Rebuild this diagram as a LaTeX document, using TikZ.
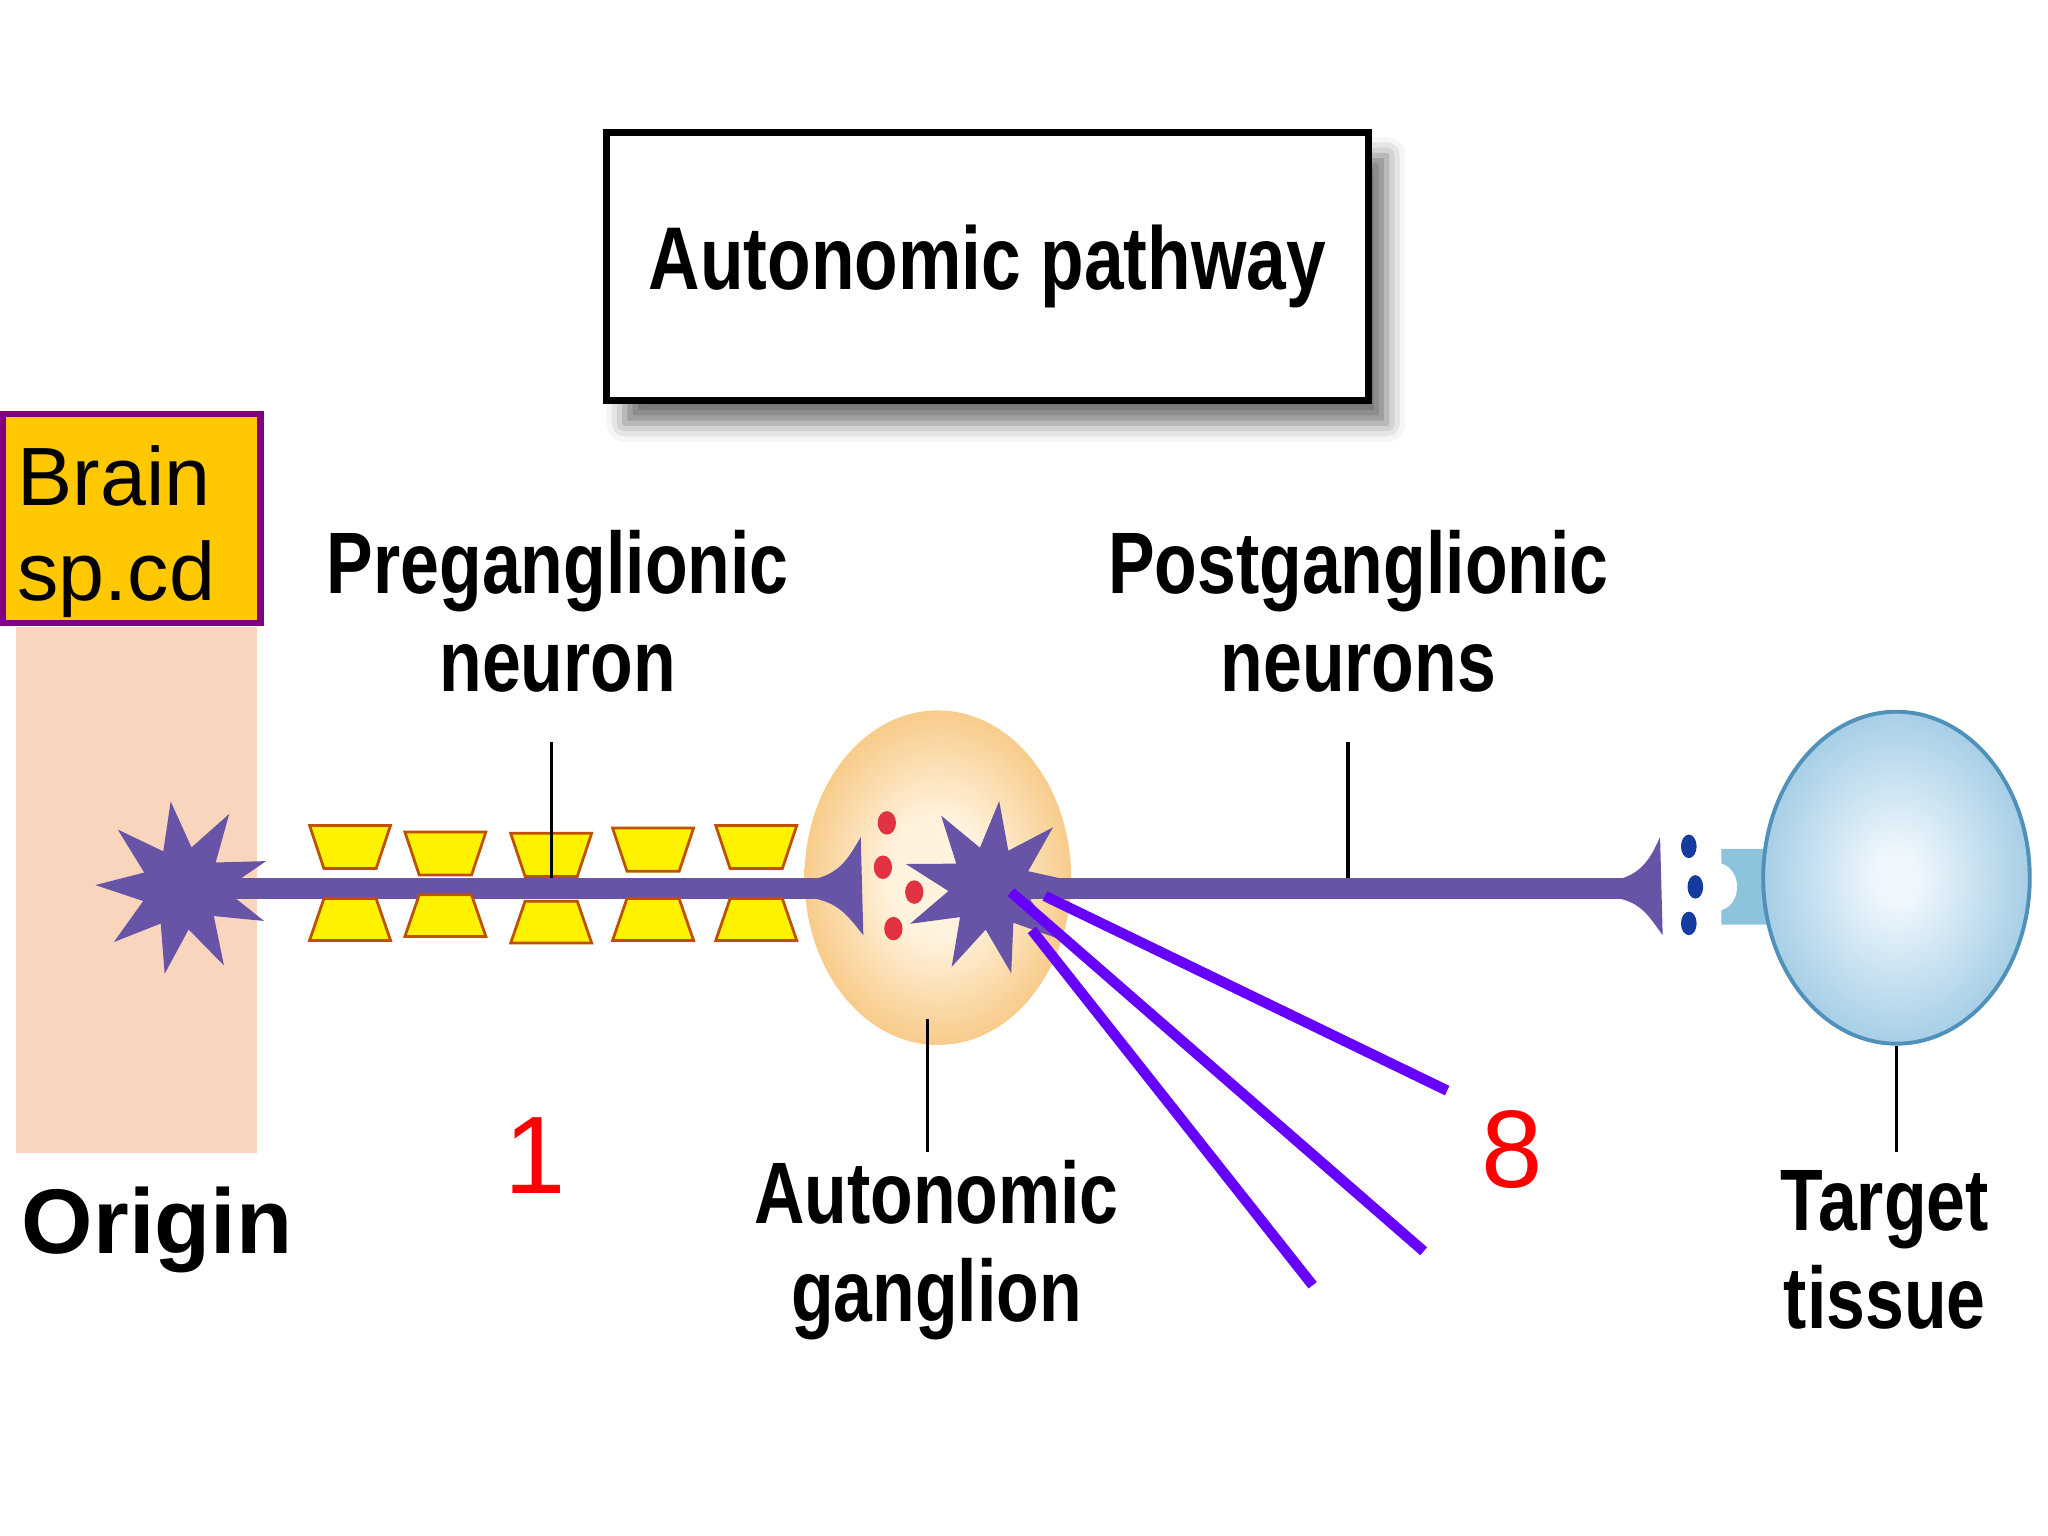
\documentclass[tikz,border=0pt]{standalone}
\usepackage{fontspec}
\setmainfont{Liberation Sans}
\newfontfamily\condfont{Liberation Sans}[FakeStretch=0.8]
\usetikzlibrary{shapes.geometric,shadows.blur}

\definecolor{axon}{RGB}{104,84,166}
\definecolor{spine}{RGB}{250,213,190}
\definecolor{brainfill}{RGB}{255,200,0}
\definecolor{brainedge}{RGB}{128,0,128}
\definecolor{gangIn}{RGB}{255,243,222}
\definecolor{gangOut}{RGB}{245,186,102}
\definecolor{tgtIn}{RGB}{238,247,252}
\definecolor{tgtOut}{RGB}{150,197,225}
\definecolor{tgtEdge}{RGB}{80,145,185}
\definecolor{recep}{RGB}{142,195,222}
\definecolor{vesRed}{RGB}{225,50,65}
\definecolor{vesBlue}{RGB}{20,60,160}
\definecolor{gateEdge}{RGB}{190,80,0}
\definecolor{fan}{RGB}{102,0,255}

\pgfdeclareradialshading{gangshade}{\pgfpoint{0bp}{0bp}}{color(0bp)=(gangIn); color(9bp)=(gangIn); color(32bp)=(gangOut); color(50bp)=(gangOut)}
\pgfdeclareradialshading{tgtshade}{\pgfpoint{0bp}{0bp}}{color(0bp)=(tgtIn); color(4bp)=(tgtIn); color(30bp)=(tgtOut); color(50bp)=(tgtOut)}

\tikzset{
    lbl/.style={align=center, font=\condfont\bfseries\fontsize{19}{21.3}\selectfont},
    num/.style={text=red, font=\fontsize{24}{28}\selectfont},
    soma/.style={star, star points=9, star point ratio=2.1, minimum size=1.34cm, inner sep=0pt, fill=axon},
    axonline/.style={axon, line width=0.16cm},
    gate/.style={fill=yellow, draw=gateEdge, line width=0.6pt},
    leader/.style={line width=0.7pt},
    fanline/.style={fan, line width=0.08cm}
}

\begin{document}
\begin{tikzpicture}[x=0.01cm,y=-0.01cm]
    \useasboundingbox (0,0) rectangle (1568,1176);
    % spinal cord / brain strip
    \fill[spine] (12,480) rectangle (197,883);
    \node[draw=brainedge, line width=1.42pt, fill=brainfill, minimum width=1.97cm, minimum height=1.60cm]
        (brain) at (101,397) {};
    \node[text width=1.75cm, align=left, inner sep=0pt, font=\fontsize{18}{20.7}\selectfont]
        (brainLbl) at (101,407) {Brain\\sp.cd};
    \node[anchor=west, inner sep=0pt, font=\bfseries\fontsize{20}{24}\selectfont] (origin) at (16,942) {Origin};
    % title
    \node[draw, line width=1.4pt, fill=white, minimum width=5.83cm, minimum height=2.05cm,
        blur shadow={shadow xshift=4pt, shadow yshift=-5pt, shadow blur radius=4pt, shadow opacity=55},
        font=\condfont\bfseries\fontsize{19.4}{24}\selectfont] (title) at (756,204) {Autonomic pathway};
    % ganglion and target
    \node[ellipse, minimum width=2.04cm, minimum height=2.56cm, shading=gangshade] (ganglion) at (718,672) {};
    \fill[recep] (1318,650) -- (1360,650) -- (1360,708) -- (1318,708) -- (1318,697)
        .. controls (1334,692) and (1334,666) .. (1318,661) -- cycle;
    \node[ellipse, minimum width=2.04cm, minimum height=2.54cm, shading=tgtshade, draw=tgtEdge, line width=0.85pt] (target) at (1452,672) {};
    % neurons
    \node[soma, rotate=8] (soma1) at (140,680) {};
    \node[soma, rotate=-6] (soma2) at (758,680) {};
    \coordinate (preEnd) at (632,680);
    \coordinate (postEnd) at (1248,680);
    \draw[axonline] (soma1.center) -- (preEnd);
    \draw[axonline] (soma2.center) -- (postEnd);
    \fill[axon] (624,673) .. controls (644,668) and (650,656) .. (659,641) -- (661,716)
        .. controls (651,704) and (644,692) .. (624,688) -- cycle;
    \fill[axon] (1240,673) .. controls (1258,668) and (1264,656) .. (1271,641) -- (1273,716)
        .. controls (1264,704) and (1258,692) .. (1240,688) -- cycle;
    % vesicles
    \foreach \x/\y in {679/630,676/664,700/683,684/711}
        \fill[vesRed] (\x,\y) ellipse [x radius=7, y radius=9];
    \foreach \x/\y in {1293/648,1298/679,1293/707}
        \fill[vesBlue] (\x,\y) ellipse [x radius=6, y radius=9];
    % myelin gates
    \foreach \x/\a/\b in {268/632/688,341/637/685,422/638/690,500/634/688,579/632/688}
    {
        \filldraw[gate] ({\x-31},\a) -- ({\x+31},\a) -- ({\x+20},\a+33) -- ({\x-20},\a+33) -- cycle;
        \filldraw[gate] ({\x-20},\b) -- ({\x+20},\b) -- ({\x+31},\b+32) -- ({\x-31},\b+32) -- cycle;
    }
    % labels and leaders
    \node[lbl] (preLbl) at (427,468) {Preganglionic\\neuron};
    \node[lbl] (postLbl) at (1040,468) {Postganglionic\\neurons};
    \node[lbl] (gangLbl) at (717,957) {Autonomic\\ganglion};
    \node[lbl] (tgtLbl) at (1443,957) {Target\\tissue};
    \coordinate (preTop) at (422,568);
    \coordinate (preTip) at (422,672);
    \coordinate (postTop) at (1032,568);
    \coordinate (postTip) at (1032,672);
    \coordinate (gangTop) at (710,780);
    \coordinate (gangBot) at (710,882);
    \coordinate (tgtBot) at (1452,882);
    \draw[leader] (preTop) -- (preTip);
    \draw[leader] (postTop) -- (postTip);
    \draw[leader] (gangTop) -- (gangBot);
    \draw[leader] (target.south) -- (tgtBot);
    % fan of postganglionic fibres
    \coordinate (fanA) at (1108,835);
    \coordinate (fanB) at (1090,958);
    \coordinate (fanC) at (1005,984);
    \draw[fanline] (800,686) -- (fanA);
    \draw[fanline] (774,683) -- (fanB);
    \draw[fanline] (790,712) -- (fanC);
    \node[num] (one) at (410,885) {1};
    \node[num] (eight) at (1158,880) {8};
\end{tikzpicture}
\end{document}
